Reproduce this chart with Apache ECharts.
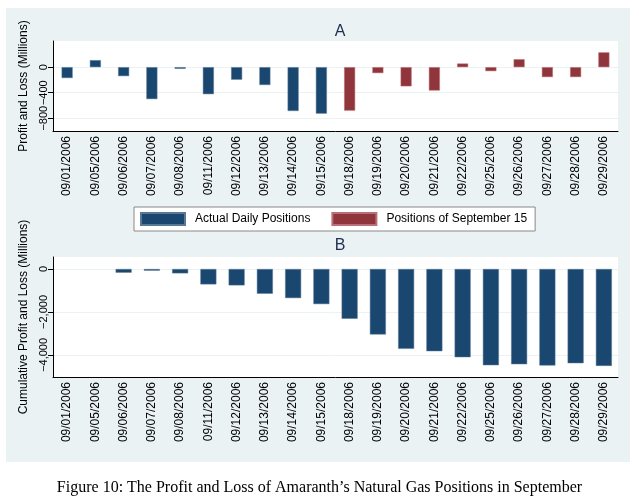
<!DOCTYPE html>
<html>
<head>
<meta charset="utf-8">
<script src="https://cdn.jsdelivr.net/npm/echarts@6/dist/echarts.min.js"></script>
<style>
html,body{margin:0;padding:0;background:#fff;}
#c{width:639px;height:503px;}
</style>
</head>
<body>
<div id="c"></div>
<script>
var dates = ["09/01/2006","09/05/2006","09/06/2006","09/07/2006","09/08/2006","09/11/2006","09/12/2006","09/13/2006","09/14/2006","09/15/2006","09/18/2006","09/19/2006","09/20/2006","09/21/2006","09/22/2006","09/25/2006","09/26/2006","09/27/2006","09/28/2006","09/29/2006"];
var actualDaily = [-170,110,-140,-500,-26,-423,-196,-279,-686,-728,null,null,null,null,null,null,null,null,null,null];
var sept15Daily = [null,null,null,null,null,null,null,null,null,null,-681,-93,-300,-366,57,-62,124,-155,-155,232];
var cumulative = [null,null,-171,-78,-202,-716,-762,-1151,-1354,-1634,-2318,-3050,-3719,-3828,-4108,-4481,-4435,-4497,-4388,-4512];
var topTicks = [0,-400,-800];
var bottomTicks = [0,-2000,-4000];

var BLUE = '#1a476f', RED = '#90353b', PANEL = '#eaf2f3', NAVY = '#1e2d50';
var FONT = '"Liberation Sans", Arial, sans-serif';

function fmt(v){
  v = Math.round(Number(v));
  var a = String(Math.abs(v)), out = '';
  while (a.length > 3) { out = ',' + a.slice(-3) + out; a = a.slice(0, -3); }
  out = a + out;
  return (v < 0 ? '\u2212' : '') + out;
}
function xAxis(gi){
  return {
    type:'category', gridIndex:gi, data:dates,
    axisLine:{onZero:false, lineStyle:{color:'#000', width:1}},
    axisTick:{show:false},
    axisLabel:{rotate:90, interval:0, fontSize:12, color:'#000', fontFamily:FONT, margin:5}
  };
}
function yAxis(gi, mn, mx, ticks, name, gap){
  return {
    type:'value', gridIndex:gi, min:mn, max:mx,
    name:name, nameLocation:'middle', nameRotate:90, nameGap:gap,
    nameTextStyle:{fontSize:12, color:'#000', fontFamily:FONT},
    axisLine:{show:true, lineStyle:{color:'#000', width:1}},
    axisTick:{show:true, length:5, lineStyle:{color:'#000'}, customValues: ticks},
    axisLabel:{rotate:90, fontSize:11, color:'#000', fontFamily:FONT, margin:4,
      interval:0, hideOverlap:false, showMinLabel:true, showMaxLabel:true,
      customValues: ticks, formatter:function(v){return fmt(v);}},
    splitLine:{show:true, lineStyle:{color:PANEL, width:1}}
  };
}

var chart = echarts.init(document.getElementById('c'), null, {renderer:'canvas'});
var option = {
  animation:false,
  backgroundColor:'#fff',
  graphic:[
    {type:'rect', z:-10, shape:{x:6, y:8, width:624, height:454}, style:{fill:PANEL}},
    {type:'text', left:'center', top:480, style:{text:"Figure 10: The Profit and Loss of Amaranth\u2019s Natural Gas Positions in September", font:'16px "Liberation Serif", "DejaVu Serif", serif', fill:'#000'}}
  ],
  title:[
    {text:'A', left:335, top:19, textAlign:'center', textStyle:{fontSize:16, fontWeight:'normal', color:NAVY, fontFamily:FONT}},
    {text:'B', left:335, top:233, textAlign:'center', textStyle:{fontSize:16, fontWeight:'normal', color:NAVY, fontFamily:FONT}}
  ],
  legend:{
    orient:'horizontal', left:134, top:207,
    itemWidth:44, itemHeight:12, itemGap:21,
    padding:[5,8,5,6],
    backgroundColor:'#fff', borderColor:'#888', borderWidth:1, borderRadius:0,
    textStyle:{fontSize:12, color:'#000', fontFamily:FONT, padding:[0,0,0,5]},
    data:[{name:'Actual Daily Positions', icon:'rect'},{name:'Positions of September 15', icon:'rect'}]
  },
  grid:[
    {left:53, top:41, right:21, height:90, show:true, backgroundColor:'#fff', borderWidth:0},
    {left:53, top:257, right:21, height:120, show:true, backgroundColor:'#fff', borderWidth:0}
  ],
  xAxis:[xAxis(0), xAxis(1)],
  yAxis:[
    yAxis(0, -1000, 410, topTicks, 'Profit and Loss (Millions)', 20),
    yAxis(1, -5030, 560, bottomTicks, 'Cumulative Profit and Loss (Millions)', 20)
  ],
  series:[
    {name:'Actual Daily Positions', type:'bar', xAxisIndex:0, yAxisIndex:0, data:actualDaily, barWidth:11, barGap:'-100%',
      itemStyle:{color:BLUE, borderColor:'#5a7896', borderWidth:0.5}},
    {name:'Positions of September 15', type:'bar', xAxisIndex:0, yAxisIndex:0, data:sept15Daily, barWidth:11, barGap:'-100%',
      itemStyle:{color:RED, borderColor:'#b87078', borderWidth:0.5}},
    {name:'Cumulative', type:'bar', xAxisIndex:1, yAxisIndex:1, data:cumulative, barWidth:16,
      itemStyle:{color:BLUE, borderColor:'#5a7896', borderWidth:0.5}}
  ]
};
chart.setOption(option);
</script>
</body>
</html>
